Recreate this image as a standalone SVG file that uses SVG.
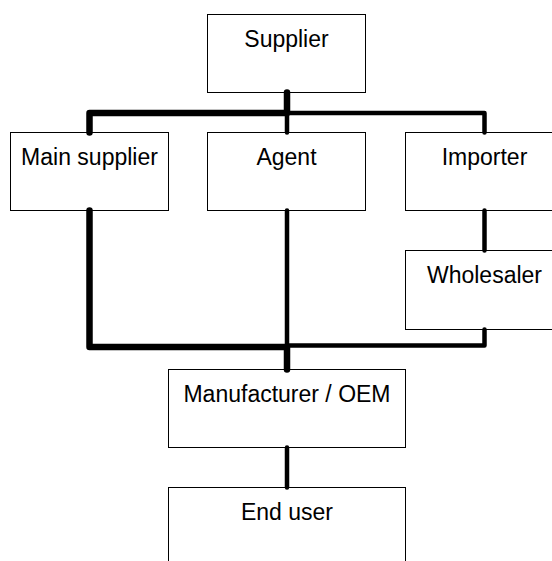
<svg xmlns="http://www.w3.org/2000/svg" width="552" height="561" viewBox="0 0 552 561">
  <style>
    .box { fill: #ffffff; stroke: #000000; stroke-width: 1; }
    .lbl { font-family: "Liberation Sans", Arial, sans-serif; font-size: 23px; fill: #000000; text-anchor: middle; }
    .thin { fill: none; stroke: #000000; stroke-width: 4.5; stroke-linecap: round; stroke-linejoin: round; }
    .thick { fill: none; stroke: #000000; stroke-width: 6.5; stroke-linecap: round; stroke-linejoin: round; }
  </style>
  <rect x="0" y="0" width="552" height="561" fill="#ffffff"/>
  <g id="supplier">
    <rect class="box" x="207.5" y="14.5" width="158" height="78"/>
    <text class="lbl" x="286.5" y="46.5">Supplier</text>
  </g>
  <g id="main-supplier">
    <rect class="box" x="10.5" y="132.5" width="158" height="78"/>
    <text class="lbl" x="89.5" y="164.5">Main supplier</text>
  </g>
  <g id="agent">
    <rect class="box" x="207.5" y="132.5" width="158" height="78"/>
    <text class="lbl" x="286.5" y="164.5">Agent</text>
  </g>
  <g id="importer">
    <rect class="box" x="405.5" y="132.5" width="158" height="78"/>
    <text class="lbl" x="484.5" y="164.5">Importer</text>
  </g>
  <g id="wholesaler">
    <rect class="box" x="405.5" y="250.5" width="158" height="79"/>
    <text class="lbl" x="484.5" y="282.5">Wholesaler</text>
  </g>
  <g id="manufacturer">
    <rect class="box" x="168.5" y="369.5" width="237" height="78"/>
    <text class="lbl" x="287" y="401.5">Manufacturer / OEM</text>
  </g>
  <g id="end-user">
    <rect class="box" x="168.5" y="487.5" width="237" height="90"/>
    <text class="lbl" x="287" y="519.5">End user</text>
  </g>
  <g id="connectors">
    <path class="thick" d="M287,92.5 V113 H89.5 V132.5"/>
    <path class="thin" d="M287,92.5 V132.5"/>
    <path class="thin" d="M287,113 H484.5 V132.5"/>
    <path class="thin" d="M484.5,210.5 V250.5"/>
    <path class="thick" d="M89.5,210.5 V347 H287 V369.5"/>
    <path class="thin" d="M287,210.5 V369.5"/>
    <path class="thin" d="M484.5,329.5 V345.5 H287"/>
    <path class="thin" d="M287,447.5 V487.5"/>
  </g>
</svg>
